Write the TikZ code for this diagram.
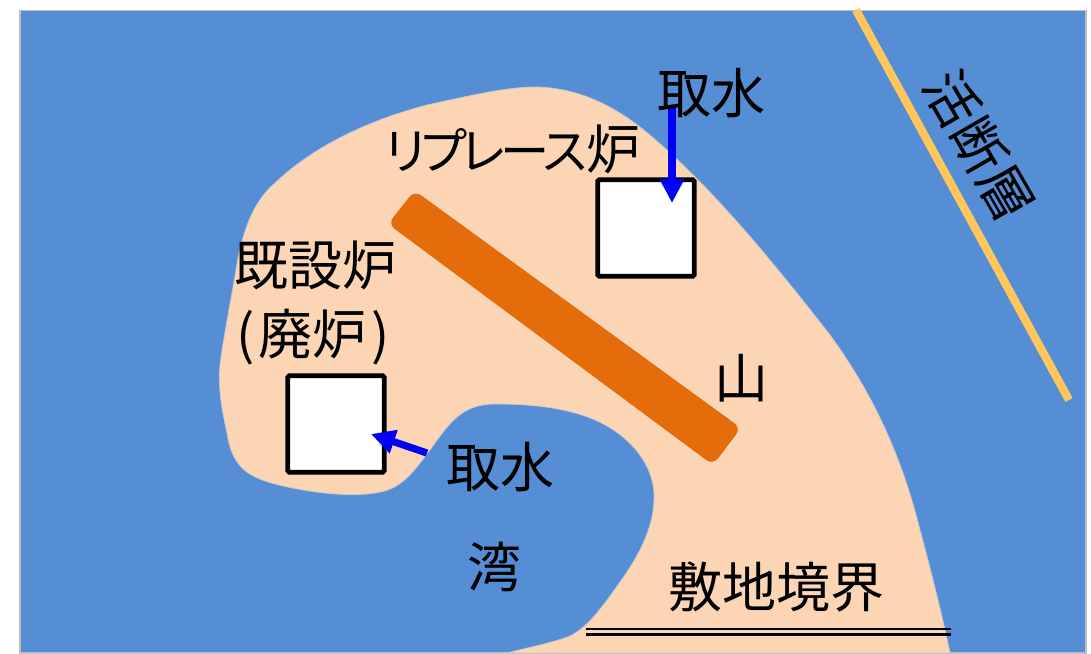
\documentclass[tikz,border=0pt]{standalone}
\usepackage{fontspec}
\setmainfont[RawFeature={+palt}]{Noto Sans CJK JP}
\newfontfamily\kanafont[RawFeature={+palt},LetterSpace=-9]{Noto Sans CJK JP}
\definecolor{sea}{HTML}{558ED5}
\definecolor{land}{HTML}{FCD5B5}
\definecolor{mount}{HTML}{E46C0A}
\definecolor{fault}{HTML}{FFC65C}
\usetikzlibrary{arrows.meta}
\tikzset{
  x=0.75pt,y=-0.75pt,
  lbl/.style={font=\fontsize{40.5}{48}\selectfont,inner sep=0,align=center,text=black},
  plant/.style={draw=black,fill=white,line width=3.5pt,minimum size=72.3pt,inner sep=0,rounded corners=1pt},
  intake/.style={draw={rgb,255:red,0;green,0;blue,245},line width=5.4pt,-{Triangle[length=18pt,width=17.5pt]}},
}
\begin{document}
\begin{tikzpicture}
\useasboundingbox (0,0) rectangle (1091,653);
\fill[sea,draw={rgb,255:red,190;green,190;blue,190},line width=1pt] (20,10.5) rectangle (1086,653);
\fill[land,draw={rgb,255:red,200;green,200;blue,205},line width=0.6pt]
  (507,653) .. controls (535,646) and (555,642) .. (570,636)
  .. controls (590,626) and (605,603) .. (625,575)
  .. controls (645,545) and (655,520) .. (654,493)
  .. controls (652,460) and (625,430) .. (585,416)
  .. controls (555,406) and (525,404) .. (495,404)
  .. controls (455,404) and (445,432) .. (420,463)
  .. controls (405,482) and (395,490) .. (375,493)
  .. controls (350,497) and (310,493) .. (275,484)
  .. controls (245,476) and (232,465) .. (227,433)
  .. controls (222,410) and (218,390) .. (220,365)
  .. controls (223,340) and (232,295) .. (238,258)
  .. controls (245,225) and (255,200) .. (275,183)
  .. controls (315,145) and (370,120) .. (427,105)
  .. controls (465,97) and (500,88) .. (533,87)
  .. controls (570,87) and (605,100) .. (640,127)
  .. controls (700,175) and (760,245) .. (830,335)
  .. controls (870,390) and (900,450) .. (920,530)
  .. controls (932,575) and (942,615) .. (950,653) -- cycle;
\fill[mount,rounded corners=6pt] (414.5,190.5) coordinate (m1) -- (741,428) -- (713,465) coordinate (m2) -- (388,224) -- cycle;
\draw[fault,line width=6.2pt] (856,10) coordinate (f1) -- (1069,400) coordinate (f2);
\node[plant] (rep) at (646,228) {};
\node[plant] (old) at (336,424) {};
\coordinate (ra) at (672,105);
\coordinate (rb) at (672,203);
\coordinate (oa) at (427,453);
\coordinate (ob) at (371,434);
\draw[intake] (ra) -- (rb);
\draw[intake] (oa) -- (ob);
\node[lbl] (t1) at (711,93) {取水};
\node[lbl] (t2) at (513,149) {{\fontsize{37}{48}\kanafont リプレース}炉};
\node[lbl] (t3) at (315,265) {既設炉};
\node[lbl] (t4) at (313,337) {(\hspace{3.5pt}廃炉\hspace{3.5pt})};
\node[lbl] (t5) at (741,378) {山};
\node[lbl] (t6) at (500,467) {取水};
\node[lbl] (t7) at (494,567) {湾};
\node[lbl] (t8) at (776,587) {敷地境界};
\node[lbl,rotate=-60] (t9) at (979,146) {活断層};
\coordinate (b1) at (586,629);
\coordinate (b2) at (950.5,629);
\coordinate (c1) at (586,634.3);
\coordinate (c2) at (950.5,634.3);
\draw[black,line width=1.9pt] (b1) -- (b2);
\draw[black,line width=1.9pt] (c1) -- (c2);
\end{tikzpicture}
\end{document}
